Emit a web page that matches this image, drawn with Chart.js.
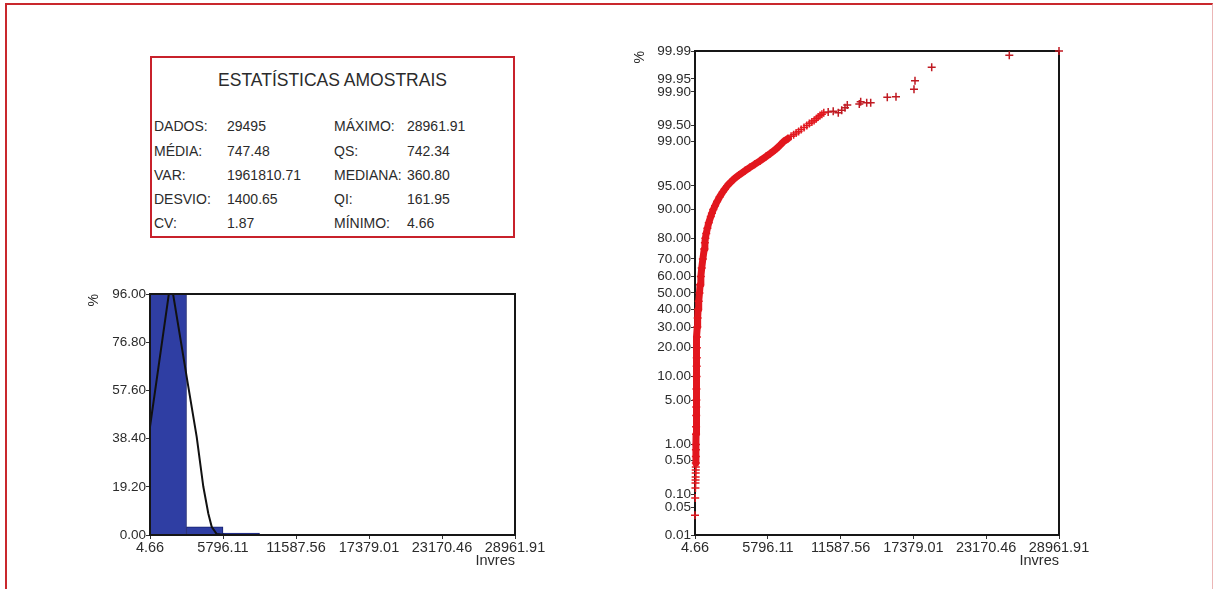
<!DOCTYPE html>
<html lang="pt">
<head>
<meta charset="utf-8">
<title>Estatísticas amostrais - Invres</title>
<script src="https://cdn.jsdelivr.net/npm/chart.js@4.4.1/dist/chart.umd.min.js"></script>
<style>
  html, body { margin: 0; padding: 0; background: #fff; }
  body {
    width: 1214px; height: 589px; position: relative; overflow: hidden;
    font-family: "Liberation Sans", Arial, sans-serif; color: #2b2b2b;
  }
  #frame {
    position: absolute; left: 5px; top: 3px; width: 1208px; height: 640px;
    box-sizing: border-box;
    border-top: 2px solid #c9282d; border-left: 2px solid #c9282d; border-right: 1px solid #ebb6b6;
  }
  #stats {
    position: absolute; left: 150px; top: 56px; width: 365px; height: 182px;
    box-sizing: border-box; border: 2px solid #c8212b; background: #fff;
  }
  #stats .title {
    position: absolute; left: 0; right: 0; top: 12.3px;
    text-align: center; font-size: 17.5px; line-height: 20px; white-space: nowrap;
  }
  #stats .cell { position: absolute; font-size: 14px; line-height: 16px; white-space: nowrap; }
  canvas { position: absolute; }
  #hist { left: 80px; top: 270px; }
  #prob { left: 620px; top: 25px; }
</style>
</head>
<body>
<div id="frame"></div>
<div id="stats"><div class="title">ESTATÍSTICAS AMOSTRAIS</div></div>
<canvas id="hist" width="480" height="310"></canvas>
<canvas id="prob" width="490" height="555"></canvas>

<script>
// ---- Summary statistics (label, value) ----
const STATS_LEFT = [
  ['DADOS:', '29495'],
  ['MÉDIA:', '747.48'],
  ['VAR:', '1961810.71'],
  ['DESVIO:', '1400.65'],
  ['CV:', '1.87']
];
const STATS_RIGHT = [
  ['MÁXIMO:', '28961.91'],
  ['QS:', '742.34'],
  ['MEDIANA:', '360.80'],
  ['QI:', '161.95'],
  ['MÍNIMO:', '4.66']
];

// ---- Shared x ticks (Invres) ----
const X_TICKS = [4.66, 5796.11, 11587.56, 17379.01, 23170.46, 28961.91];

// ---- Histogram: 10 classes between the minimum and the maximum ----
const HIST_BIN_CENTERS = [1452.52, 4348.25, 7243.97, 10139.70, 13035.42,
                          15931.15, 18826.87, 21722.60, 24618.32, 27514.05];
const HIST_PERCENT = [96.0, 3.3, 0.8, 0.25, 0.08, 0.03, 0.02, 0.01, 0.01, 0.01];
const HIST_Y_TICKS = [0, 19.2, 38.4, 57.6, 76.8, 96.0];

// ---- Fitted density curve drawn over the histogram ----
const CURVE_X = [4.66, 1655, 3043, 3709, 4233, 4630, 4899, 5296, 5954, 8000, 28961.91];
const CURVE_Y = [43.1, 101.5, 59.1, 39.1, 19.3, 8.6, 3.3, 0.4, 0.0, 0.0, 0.0];

// ---- Normal probability plot ----
const PROB_TICKS = [0.01, 0.05, 0.1, 0.5, 1, 5, 10, 20, 30, 40, 50, 60, 70, 80, 90, 95,
                    99, 99.5, 99.9, 99.95, 99.99];

// lowest observations (isolated crosses)
const LOW_VALUES  = [4.66, 22, 38, 44, 50, 55, 60, 64, 68];
const LOW_PERCENT = [0.032, 0.082, 0.136, 0.175, 0.203, 0.234, 0.284, 0.326, 0.375];

// dense body of the sample
const BAND_VALUES = [70, 74, 78, 82, 88, 92, 99, 105, 110, 118, 128, 137, 145, 152, 162,
                     185, 215, 250, 300, 361, 410, 470, 540, 630, 742, 790, 830, 900, 990,
                     1100, 1260, 1350, 1460, 1600, 1760, 1960, 2220, 2380, 2560, 2800, 3100,
                     3500, 4000, 4350, 4750, 5200, 5650, 6000, 6350, 6700, 7050, 7400];
const BAND_PERCENT = [0.45, 0.6, 0.8, 1.0, 1.5, 2, 3, 4, 5, 7, 10, 13, 16, 20, 25,
                      30, 35, 40, 45, 50, 55, 60, 65, 70, 75, 78, 80, 82, 84,
                      86, 88, 89, 90, 91, 92, 93, 94, 94.5, 95, 95.5, 96,
                      96.5, 97, 97.3, 97.6, 97.9, 98.2, 98.4, 98.6, 98.8, 99.0, 99.12];

// upper end of the body, where single crosses start to show
const UPPER_VALUES  = [7650, 7850, 8050, 8250, 8450, 8680, 8900, 9100, 9300, 9480,
                       9650, 9800, 9950, 10100, 10250];
const UPPER_PERCENT = [99.2, 99.25, 99.3, 99.35, 99.4, 99.45, 99.5, 99.54, 99.57, 99.6,
                       99.63, 99.66, 99.68, 99.7, 99.72];

// upper tail (isolated crosses)
const TAIL_VALUES  = [10600, 11000, 11404, 11675, 11937, 12120, 13075, 13186, 13664, 13982,
                      15302, 15994, 17426, 17506, 18835, 25008, 28961.91];
const TAIL_PERCENT = [99.73, 99.74, 99.72, 99.75, 99.78, 99.807, 99.816, 99.836, 99.828, 99.828,
                      99.869, 99.872, 99.913, 99.945, 99.974, 99.987, 99.99];

// ---------------------------------------------------------------
// Stats panel
(function buildStats() {
  const box = document.getElementById('stats');
  const rowTop = i => 60.3 + 24.2 * i;
  const add = (txt, left, top) => {
    const d = document.createElement('div');
    d.className = 'cell';
    d.textContent = txt;
    d.style.left = left + 'px';
    d.style.top = top + 'px';
    box.appendChild(d);
  };
  STATS_LEFT.forEach(([k, v], i) => { add(k, 2, rowTop(i)); add(v, 75, rowTop(i)); });
  STATS_RIGHT.forEach(([k, v], i) => { add(k, 182, rowTop(i)); add(v, 255, rowTop(i)); });
})();

// ---------------------------------------------------------------
// Normal quantile (Acklam) and CDF for the probability axis
function probit(p) {
  const a = [-3.969683028665376e+01, 2.209460984245205e+02, -2.759285104469687e+02,
             1.383577518672690e+02, -3.066479806614716e+01, 2.506628277459239e+00];
  const b = [-5.447609879822406e+01, 1.615858368580409e+02, -1.556989798598866e+02,
             6.680131188771972e+01, -1.328068155288572e+01];
  const c = [-7.784894002430293e-03, -3.223964580411365e-01, -2.400758277161838e+00,
             -2.549732539343734e+00, 4.374664141464968e+00, 2.938163982698783e+00];
  const d = [7.784695709041462e-03, 3.224671290700398e-01, 2.445134137142996e+00,
             3.754408661907416e+00];
  const pl = 0.02425, ph = 1 - pl;
  let q, r;
  if (p < pl) {
    q = Math.sqrt(-2 * Math.log(p));
    return (((((c[0]*q+c[1])*q+c[2])*q+c[3])*q+c[4])*q+c[5]) / ((((d[0]*q+d[1])*q+d[2])*q+d[3])*q+1);
  }
  if (p <= ph) {
    q = p - 0.5; r = q * q;
    return (((((a[0]*r+a[1])*r+a[2])*r+a[3])*r+a[4])*r+a[5])*q / (((((b[0]*r+b[1])*r+b[2])*r+b[3])*r+b[4])*r+1);
  }
  q = Math.sqrt(-2 * Math.log(1 - p));
  return -(((((c[0]*q+c[1])*q+c[2])*q+c[3])*q+c[4])*q+c[5]) / ((((d[0]*q+d[1])*q+d[2])*q+d[3])*q+1);
}
function normCdf(z) {
  const t = 1 / (1 + 0.2316419 * Math.abs(z));
  const y = 0.3989422804014327 * Math.exp(-z * z / 2) *
    t * (0.319381530 + t * (-0.356563782 + t * (1.781477937 + t * (-1.821255978 + t * 1.330274429))));
  return z >= 0 ? 1 - y : y;
}

// Percent axis with normal-probability spacing
class ProbitScale extends Chart.LinearScale {
  determineDataLimits() {
    this.min = this.options.min;
    this.max = this.options.max;
  }
  buildTicks() {
    return PROB_TICKS.map(v => ({ value: v }));
  }
  configure() {
    super.configure();
    this._zLo = probit(this.min / 100);
    this._zHi = probit(this.max / 100);
  }
  getPixelForValue(value) {
    const z = probit(Math.min(Math.max(value, 1e-6), 100 - 1e-6) / 100);
    return this.getPixelForDecimal((z - this._zLo) / (this._zHi - this._zLo));
  }
  getValueForPixel(pixel) {
    const dec = this.getDecimalForPixel(pixel);
    return 100 * normCdf(this._zLo + dec * (this._zHi - this._zLo));
  }
}
ProbitScale.id = 'probit';
ProbitScale.defaults = {};
Chart.register(ProbitScale);

// Black box around the plotting area
const plotFrame = {
  id: 'plotFrame',
  beforeDatasetsDraw(chart, args, opts) { if (opts.under) drawBox(chart); },
  afterDatasetsDraw(chart, args, opts) { if (!opts.under) drawBox(chart); }
};
function drawBox(chart) {
  const { ctx, chartArea: a } = chart;
  ctx.save();
  ctx.strokeStyle = '#161616';
  ctx.lineWidth = 2;
  ctx.strokeRect(a.left, a.top, a.right - a.left, a.bottom - a.top);
  ctx.restore();
}

Chart.defaults.font.family = '"Liberation Sans", Arial, sans-serif';
Chart.defaults.color = '#2b2b2b';

const TEXT = '#2b2b2b';
const fix2 = v => Number(v).toFixed(2);
const tickGrid = { display: true, drawOnChartArea: false, drawTicks: true, tickLength: 4, color: '#333', lineWidth: 1, offset: false };

function xAxis() {
  return {
    type: 'linear', min: X_TICKS[0], max: X_TICKS[X_TICKS.length - 1], offset: false,
    afterBuildTicks: s => { s.ticks = X_TICKS.map(v => ({ value: v })); },
    afterFit: s => { s.height = 35; },
    grid: tickGrid, border: { display: false },
    ticks: { autoSkip: false, maxRotation: 0, minRotation: 0, padding: 0, color: TEXT,
             font: { size: 14.5 }, callback: fix2 },
    title: { display: true, text: 'Invres', align: 'end', color: TEXT, font: { size: 14.5 },
             padding: { top: 0, bottom: 0 } }
  };
}

// ---- Histogram ----
new Chart(document.getElementById('hist'), {
  type: 'bar',
  data: {
    datasets: [
      {
        type: 'line', order: 1,
        data: CURVE_X.map((x, i) => ({ x, y: CURVE_Y[i] })),
        borderColor: '#111', borderWidth: 2, pointRadius: 0, tension: 0, fill: false
      },
      {
        type: 'bar', order: 2,
        data: HIST_BIN_CENTERS.map((x, i) => ({ x, y: HIST_PERCENT[i] })),
        backgroundColor: '#2f3ea3', borderColor: '#16206e', borderWidth: 1,
        barPercentage: 1, categoryPercentage: 1, grouped: false
      }
    ]
  },
  options: {
    responsive: false, animation: false, devicePixelRatio: 1,
    layout: { padding: { left: 0, right: 45, top: 24, bottom: 10 } },
    plugins: { legend: { display: false }, tooltip: { enabled: false }, plotFrame: { under: false } },
    scales: {
      x: xAxis(),
      y: {
        type: 'linear', min: 0, max: 96,
        afterBuildTicks: s => { s.ticks = HIST_Y_TICKS.map(v => ({ value: v })); },
        afterFit: s => { s.width = 70; },
        grid: tickGrid, border: { display: false },
        ticks: { autoSkip: false, padding: 0, color: TEXT, font: { size: 13.5 }, callback: fix2 },
        title: { display: true, text: '%', align: 'end', color: TEXT, font: { size: 14 },
                 padding: { top: 6, bottom: 0 } }
      }
    }
  },
  plugins: [plotFrame]
});

// ---- Normal probability plot ----
const RED = '#e2171e';
const RED_DARK = '#c01a22';
const crossStyle = c => ({
  pointStyle: 'cross', pointRadius: 4, pointBorderWidth: 1.5,
  pointBorderColor: c, pointBackgroundColor: c, clip: false
});

new Chart(document.getElementById('prob'), {
  type: 'scatter',
  data: {
    datasets: [
      Object.assign({
        data: BAND_VALUES.map((x, i) => ({ x, y: BAND_PERCENT[i] })),
        showLine: true, borderColor: RED, borderWidth: 7, tension: 0,
        borderJoinStyle: 'round', borderCapStyle: 'round'
      }, crossStyle(RED)),
      Object.assign({
        data: LOW_VALUES.map((x, i) => ({ x, y: LOW_PERCENT[i] })), showLine: false
      }, crossStyle(RED)),
      Object.assign({
        data: UPPER_VALUES.map((x, i) => ({ x, y: UPPER_PERCENT[i] })), showLine: false
      }, crossStyle(RED)),
      Object.assign({
        data: TAIL_VALUES.map((x, i) => ({ x, y: TAIL_PERCENT[i] })), showLine: false
      }, crossStyle(RED_DARK))
    ]
  },
  options: {
    responsive: false, animation: false, devicePixelRatio: 1,
    layout: { padding: { left: 0, right: 51, top: 26, bottom: 10 } },
    plugins: { legend: { display: false }, tooltip: { enabled: false }, plotFrame: { under: true } },
    scales: {
      x: xAxis(),
      y: {
        type: 'probit', min: 0.01, max: 99.99,
        afterFit: s => { s.width = 75; },
        grid: tickGrid, border: { display: false },
        ticks: { autoSkip: false, padding: 0, color: TEXT, font: { size: 13.5 }, callback: fix2 },
        title: { display: true, text: '%', align: 'end', color: TEXT, font: { size: 14 },
                 padding: { top: 12, bottom: 0 } }
      }
    }
  },
  plugins: [plotFrame]
});
</script>
</body>
</html>
